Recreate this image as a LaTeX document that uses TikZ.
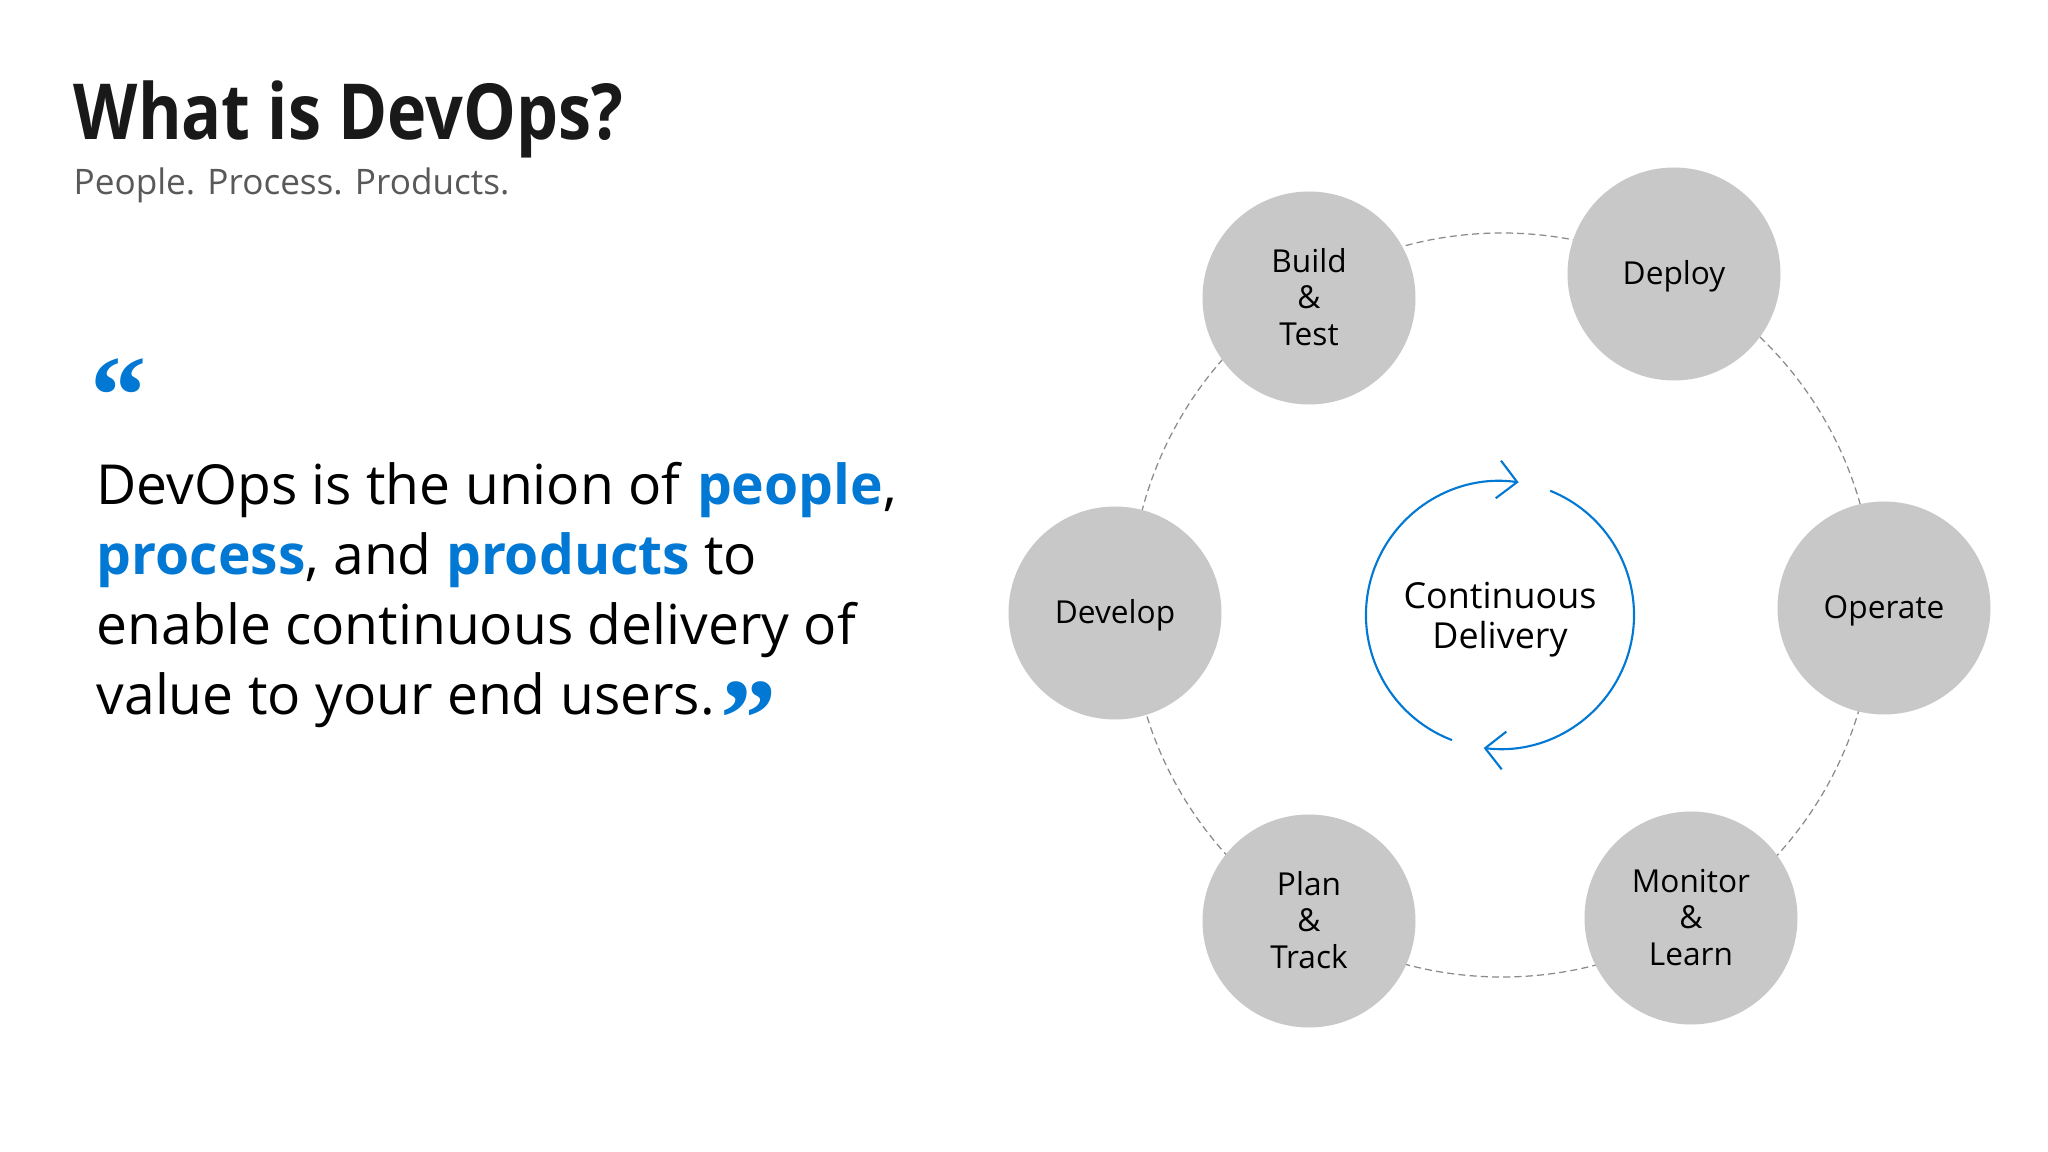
\documentclass[tikz,border=0pt]{standalone}
\usepackage{fontspec}
\setmainfont{Open Sans}
\newfontfamily\headfont[FakeStretch=0.86]{Open Sans}
\newfontfamily\quotefont{Liberation Serif}
\usepackage{tikz}
\usepackage{xcolor}
\usetikzlibrary{arrows.meta}

\definecolor{msblue}{HTML}{0078D4}
\definecolor{stagegray}{HTML}{C8C8C8}
\definecolor{subgray}{HTML}{595959}
\definecolor{ringgray}{HTML}{8A8A8A}
\newcommand{\kw}[1]{\textbf{\color{msblue}#1}}

\begin{document}
\begin{tikzpicture}[
  stage/.style={circle, fill=stagegray, minimum size=2.13cm, inner sep=0pt, align=center,
    text depth=0.6pt, font=\fontsize{9}{10.4}\selectfont},
  ring/.style={ringgray, line width=0.35pt, dash pattern=on 2pt off 1.2pt},
  loop/.style={msblue, line width=0.6pt, -{Straight Barb[length=1.9mm, width=3.8mm]}},
  mark quote/.style={anchor=north west, inner sep=0pt, text=msblue, font=\fontsize{32}{32}\selectfont\quotefont\bfseries}]
\useasboundingbox[fill=white] (0,0) rectangle (20.48,-11.52);

% heading
\node[anchor=base west, inner sep=0pt, text=black!90, font=\fontsize{22}{26}\selectfont\headfont\bfseries] (title) at (0.73,-1.40) {What is DevOps?};
\node[anchor=base west, inner sep=0pt, text=subgray, font=\fontsize{10}{12}\selectfont] (subtitle) at (0.73,-1.95) {People. Process. Products.};

% quote
\node[mark quote] (openq) at (0.90,-3.58) {“};
\node[anchor=north west, inner sep=0pt, align=left, font=\fontsize{15.7}{19.9}\selectfont] (quote) at (0.96,-4.62)
  {DevOps is the union of \kw{people},\\\kw{process}, and \kw{products} to\\enable continuous delivery of\\value to your end users.};
\node[mark quote] (closeq) at (7.20,-6.81) {”};

% cycle
\coordinate (hub) at (15.02,-6.05);
\draw[ring] (hub) circle[radius=3.72];
\node[font=\fontsize{10.2}{11.4}\selectfont, align=center] (cd) at (15.00,-6.20) {Continuous\\Delivery};
\draw[loop] ([shift={(249:1.34)}]cd.center) ++(0,0.05) arc[start angle=249, end angle=82, radius=1.34];
\draw[loop] ([shift={(68:1.34)}]cd.center) ++(0,0.05) arc[start angle=68, end angle=-97, radius=1.34];

\node[stage] (build) at (13.09,-2.98) {Build\\\&\\Test};
\node[stage] (deploy) at (16.74,-2.74) {Deploy};
\node[stage] (develop) at (11.15,-6.13) {Develop};
\node[stage] (operate) at (18.84,-6.08) {Operate};
\node[stage] (plan) at (13.09,-9.21) {Plan\\\&\\Track};
\node[stage] (monitor) at (16.91,-9.18) {Monitor\\\&\\Learn};
\end{tikzpicture}
\end{document}
